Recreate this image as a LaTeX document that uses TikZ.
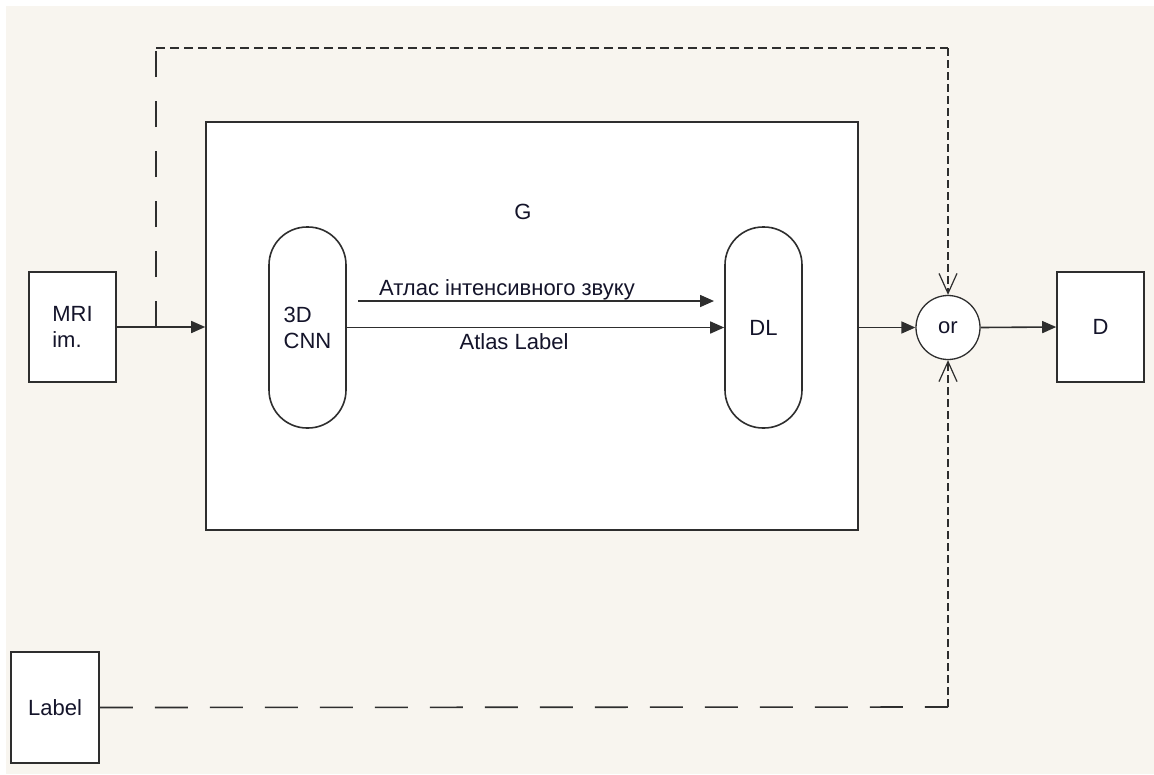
\documentclass[tikz,border=0pt]{standalone}
\usepackage{fontspec}
\setmainfont{Liberation Sans}
\usetikzlibrary{arrows.meta}
\definecolor{paper}{HTML}{F8F5EF}
\definecolor{ink}{HTML}{2E2E2E}
\definecolor{txt}{HTML}{14142A}
\begin{document}
\begin{tikzpicture}[x=1pt,y=-1pt,
  every node/.style={font=\fontsize{22}{26}\selectfont, text=txt},
  block/.style={draw=ink, line width=1.6pt, fill=white, inner sep=0pt},
  pill/.style={block, rounded corners=38pt, minimum width=77pt, minimum height=201pt},
  gate/.style={draw=ink, line width=1.3pt, fill=white, circle, inner sep=0pt, minimum size=64pt},
  wire/.style={draw=ink, line width=1.6pt},
  flow/.style={wire, -{Triangle[length=14pt,width=12pt]}},
  barb/.style={-{Straight Barb[length=20pt,width=18pt,line width=1.2pt]}},
  longdash/.style={wire, dash pattern=on 26pt off 24pt},
  feeddash/.style={wire, dash pattern=on 33pt off 22pt},
  shortdash/.style={wire, dash pattern=on 9pt off 5pt},
  tinydash/.style={wire, dash pattern=on 8pt off 4pt},
  tag/.style={inner sep=0pt}]
  % canvas
  \useasboundingbox (0,0) rectangle (1154,774);
  \fill[white] (0,0) rectangle (1154,774);
  \fill[paper] (6,6) rectangle (1154,774);

  % blocks
  \node[block, minimum width=652pt, minimum height=408pt] (gbox) at (532,326) {};
  \node[tag] (glabel) at (523,212) {G};
  \node[block, minimum width=87pt, minimum height=110pt, align=left] (mri) at (72.5,327) {MRI\\im.};
  \node[block, minimum width=88pt, minimum height=111pt] (lab) at (55,707.5) {Label};
  \node[pill, align=left] (cnn) at (307.5,327.5) {3D\\CNN};
  \node[pill] (dl) at (763.5,327.5) {DL};
  \node[gate] (or) at (948,327.5) {or};
  \node[block, minimum width=87pt, minimum height=110pt] (dbox) at (1100.5,327) {D};

  % corners of the feedback paths
  \coordinate (j) at (156,327);
  \coordinate (tl) at (156,48);
  \coordinate (tr) at (948,48);
  \coordinate (br) at (948,707);
  \coordinate (a1) at (358,301);
  \coordinate (a2) at (714,301);

  % main signal path
  \draw[flow] (mri.east) -- (mri.east -| gbox.west);
  \draw[flow] (cnn.east) -- (dl.west);
  \draw[flow] (a1) -- (a2);
  \draw[flow] (gbox.east |- or.west) -- (or.west);
  \draw[flow] (or.east) -- (dbox.west);

  % edge labels
  \node[tag] (intens) at (507,290) {Атлас інтенсивного звуку};
  \node[tag] (atlas) at (514,342) {Atlas Label};

  % dashed feeds into the gate
  \draw[longdash] (j) -- (tl);
  \draw[shortdash] (tl) -- (tr);
  \draw[tinydash, barb] (tr) -- (or.north);
  \draw[feeddash] (lab.east) -- (br);
  \draw[tinydash, barb] (br) -- (or.south);
\end{tikzpicture}
\end{document}
